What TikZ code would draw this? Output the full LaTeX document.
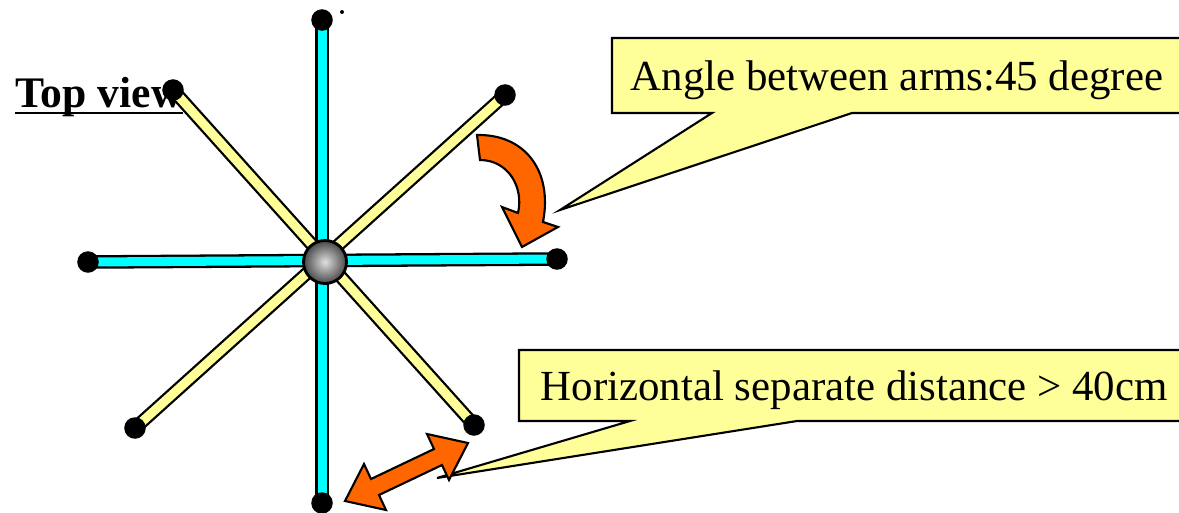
\documentclass[tikz,border=0pt]{standalone}
\usepackage{fontspec}
\setmainfont{Liberation Serif}
\definecolor{paleyellow}{HTML}{FFFF99}
\definecolor{armcyan}{HTML}{00FFFF}
\definecolor{hotorange}{HTML}{FF6600}
\tikzset{
px/.style={x=0.01cm,y=-0.01cm},
cyanarm/.style={draw=black,line width=0.65pt,double=armcyan,double distance=0.09cm},
yellowarm/.style={draw=black,line width=0.65pt,double=paleyellow,double distance=0.09cm},
armtip/.style={circle,fill=black,inner sep=0pt,minimum size=0.215cm},
hubball/.style={circle,draw=black,line width=0.8pt,inner sep=0pt,minimum size=0.43cm,inner color=gray!25,outer color=black!72},
callbox/.style={fill=paleyellow,draw=black,line width=0.6pt,line join=miter},
calltext/.style={font=\fontsize{12.2pt}{14pt}\selectfont,anchor=base west,inner sep=0pt},
bigarrow/.style={fill=hotorange,draw=black,line width=0.6pt,line join=miter}
}

\begin{document}
\begin{tikzpicture}[px]
\useasboundingbox (0,0) rectangle (1179,512);
\node[calltext,font=\fontsize{12.4pt}{14pt}\selectfont\bfseries] (title) at (15,107) {Top view};
\draw[line width=0.85pt] (title.base west) ++(0,6) -- (183,113);
\coordinate (tN) at (322,20);
\coordinate (tS) at (322,503);
\coordinate (tW) at (88,262);
\coordinate (tE) at (557,259);
\coordinate (tNW) at (173,90);
\coordinate (tSE) at (474,425);
\coordinate (tNE) at (505,95);
\coordinate (tSW) at (135,428);
\draw[yellowarm] (tNW) -- (tSE);
\draw[yellowarm] (tNE) -- (tSW);
\draw[cyanarm] (tN) -- (tS);
\draw[cyanarm] (tW) -- (tE);
\node[hubball] (hub) at (325,262) {};
\foreach \t in {tN,tS,tW,tE,tNW,tSE,tNE,tSW}
  \node[armtip] (dot\t) at (\t) {};
\fill (342,12) circle (0.02cm);
% callouts
\draw[callbox] (612,38) -- (1200,38) -- (1200,113) -- (852,113) -- (560,210) -- (712,113) -- (612,113) -- cycle;
\node[calltext] (angle) at (630,90) {Angle between arms:45 degree};
\draw[callbox] (519,350) -- (1200,350) -- (1200,421) -- (797,421) -- (437,478) -- (630,421) -- (519,421) -- cycle;
\node[calltext] (dist) at (540,400) {Horizontal separate distance > 40cm};
% arrows
\draw[bigarrow] (477,135) .. controls (524,134) and (553,170) .. (543,222) -- (558,227) -- (522,247) -- (502,207) -- (518,213) .. controls (524,187) and (508,160) .. (480,160) -- cycle;
\draw[bigarrow] (345,501) -- (364,464) -- (371,479) -- (434,449) -- (427,434) -- (468,443) -- (449,480) -- (442,465) -- (379,495) -- (386,510) -- cycle;
\end{tikzpicture}
\end{document}
